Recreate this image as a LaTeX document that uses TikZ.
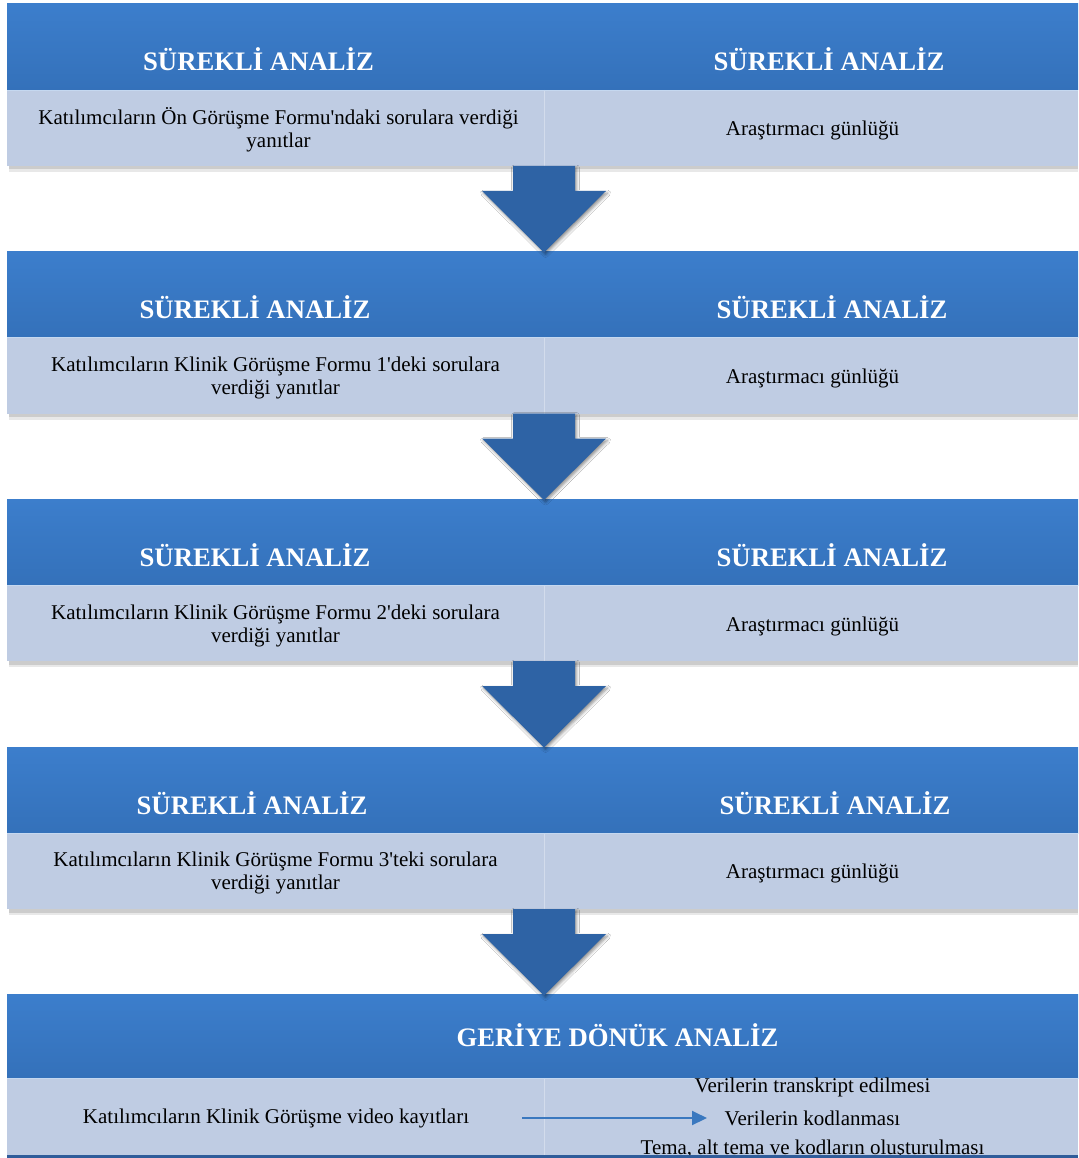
\documentclass[tikz,border=0pt]{standalone}
\usepackage{fontspec}
\setmainfont{Liberation Serif}[Ligatures=TeXOff]
\usetikzlibrary{shadows.blur,arrows.meta}
\definecolor{hdtop}{HTML}{3C7ECC}
\definecolor{hdbot}{HTML}{3471BA}
\definecolor{rowbg}{HTML}{BFCCE3}
\definecolor{arrowc}{HTML}{2E63A5}
\definecolor{divc}{HTML}{D3DCEC}
\definecolor{linkc}{HTML}{3A78BF}
\definecolor{edgec}{HTML}{2F5C9A}
\begin{document}
\begin{tikzpicture}[x=1pt,y=-1pt,
  headtxt/.style={font=\fontsize{26.7}{30}\selectfont\bfseries, text=white, inner sep=0pt, anchor=base},
  bodytxt/.style={font=\fontsize{21}{23.5}\selectfont, text=black, inner sep=0pt, align=center},
  flowarrow/.style={fill=arrowc, blur shadow={shadow xshift=1.5pt, shadow yshift=-2pt, shadow blur radius=3pt, shadow opacity=45}}]
\fill[white] (0,0) rectangle (1078,1158);
\useasboundingbox (0,0) rectangle (1078,1158);
% panels 1-4
\foreach \t in {4,251.5,499,747} {
  \fill[gray!40] (9,\t+162) rectangle (1078,\t+165.5);
  \fill[gray!18] (9,\t+165.5) rectangle (1078,\t+168);
  \shade[top color=hdtop, bottom color=hdbot] (7,\t) rectangle (1078,\t+86);
  \fill[rowbg] (7,\t+86) rectangle (1078,\t+162);
  \draw[divc, line width=1pt] (544,\t+86) -- (544,\t+162);
  \draw[white!70!hdtop, line width=0.8pt] (7,\t+86) -- (1078,\t+86);
}
% panel 5
\shade[top color=hdtop, bottom color=hdbot] (7,994) rectangle (1078,1078);
\fill[rowbg] (7,1078) rectangle (1078,1155);
\draw[divc, line width=1pt] (544,1078) -- (544,1155);
\draw[white!70!hdtop, line width=0.8pt] (7,1078) -- (1078,1078);
% down arrows
\foreach \t in {4,251.5,499,747} {
  \path[flowarrow] (513,\t+162) -- (575,\t+162) -- (575,\t+187) -- (606,\t+187)
     -- (544,\t+248.5) -- (482,\t+187) -- (513,\t+187) -- cycle;
}
% texts panel 1
\node[headtxt] (h1l) at (258.5,71) {SÜREKLİ ANALİZ};
\node[headtxt] (h1r) at (829,71) {SÜREKLİ ANALİZ};
\node[bodytxt] (b1l) at (278.5,130) {Katılımcıların Ön Görüşme Formu'ndaki sorulara verdiği\\yanıtlar};
\node[bodytxt] (b1r) at (812.5,130) {Araştırmacı günlüğü};
% panel 2
\node[headtxt] (h2l) at (255,318) {SÜREKLİ ANALİZ};
\node[headtxt] (h2r) at (832,318) {SÜREKLİ ANALİZ};
\node[bodytxt] (b2l) at (275.5,378) {Katılımcıların Klinik Görüşme Formu 1'deki sorulara\\verdiği yanıtlar};
\node[bodytxt] (b2r) at (812.5,378) {Araştırmacı günlüğü};
% panel 3
\node[headtxt] (h3l) at (255,566) {SÜREKLİ ANALİZ};
\node[headtxt] (h3r) at (832,566) {SÜREKLİ ANALİZ};
\node[bodytxt] (b3l) at (275.5,626) {Katılımcıların Klinik Görüşme Formu 2'deki sorulara\\verdiği yanıtlar};
\node[bodytxt] (b3r) at (812.5,626) {Araştırmacı günlüğü};
% panel 4
\node[headtxt] (h4l) at (252,814) {SÜREKLİ ANALİZ};
\node[headtxt] (h4r) at (835,814) {SÜREKLİ ANALİZ};
\node[bodytxt] (b4l) at (275.5,873) {Katılımcıların Klinik Görüşme Formu 3'teki sorulara\\verdiği yanıtlar};
\node[bodytxt] (b4r) at (812.5,873) {Araştırmacı günlüğü};
% panel 5
\node[headtxt] (h5) at (617.5,1046) {GERİYE DÖNÜK ANALİZ};
\node[bodytxt] (b5l) at (276,1118) {Katılımcıların Klinik Görüşme video kayıtları};
\node[bodytxt] (b5a) at (812.5,1087) {Verilerin transkript edilmesi};
\node[bodytxt] (b5b) at (812.5,1118) {Verilerin kodlanması};
\node[bodytxt] (b5c) at (812.5,1149) {Tema, alt tema ve kodların oluşturulması};
\coordinate (a5s) at (522,1118);
\coordinate (a5e) at (707,1118);
\draw[linkc, line width=2pt, -{Triangle[length=15pt,width=14pt]}] (a5s) -- (a5e);
\fill[edgec] (7,1155) rectangle (1078,1158);
\end{tikzpicture}
\end{document}
